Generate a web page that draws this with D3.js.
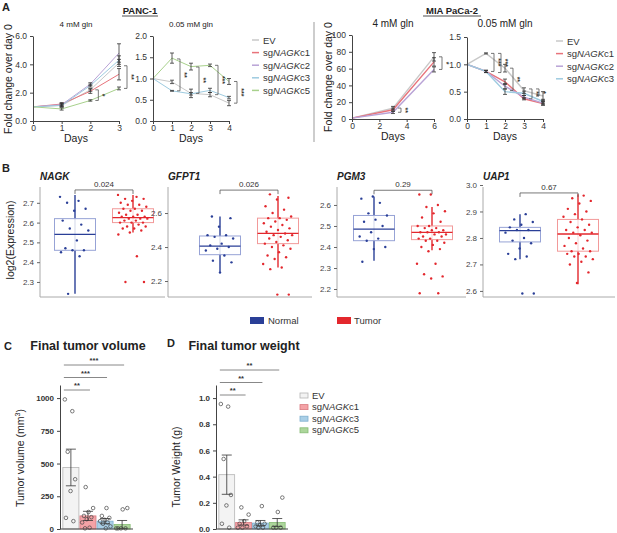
<!DOCTYPE html>
<html>
<head>
<meta charset="utf-8">
<script src="https://cdn.jsdelivr.net/npm/d3@7"></script>
<style>
  body { margin: 0; background: #fff; }
  svg { font-family: "Liberation Sans", Arial, Helvetica, sans-serif; }
</style>
</head>
<body>
<svg id="fig" width="617" height="533"></svg>
<script>
// ---- DATA ----
// panel A : growth curves (fold change over day 0)
const LINE_SERIES = ['EV', 'c1', 'c2', 'c3', 'c5'];
const LINE_COLORS = { EV: '#c8c8c8', c1: '#e8737b', c2: '#b9a3d6', c3: '#9dcbe0', c5: '#a8d18c' };

const panc4Days = [0, 1, 2, 3];
const panc4Mean = { EV: [1, 1.1, 2.2, 4.1], c1: [1, 1.2, 2.1, 3.3], c2: [1, 1.15, 2.6, 4.8], c3: [1, 1.1, 2.5, 4.3], c5: [1, 0.85, 1.45, 2.3] };
const panc4Err  = { EV: [0, 0.1, 0.1, 0.25], c1: [0, 0.1, 0.15, 0.4], c2: [0, 0.1, 0.1, 0.65], c3: [0, 0.1, 0.1, 0.3], c5: [0, 0.08, 0.05, 0.1] };
const panc4Sig  = { day: [2, 3], hi: [2.2, 3.9], lo: [1.45, 2.3], label: ['*', '**'] };

const panc005Days = [0, 1, 2, 3, 4];
const panc005Mean = { EV: [1, 0.92, 0.65, 0.62, 0.42], c3: [1, 0.71, 0.64, 0.72, 0.55], c5: [1, 1.48, 1.28, 1.31, 0.93] };
const panc005Err  = { EV: [0, 0.04, 0.1, 0.05, 0.06], c3: [0, 0.01, 0.03, 0.05, 0.03], c5: [0, 0.12, 0.08, 0.03, 0.07] };
const panc005Sig  = { day: [1, 2, 3, 4], hi: [1.46, 1.27, 1.31, 0.93], lo: [0.71, 0.65, 0.62, 0.42], label: ['**', '**', '***', '***'] };

const mia4Days = [0, 3, 6];
const mia4Mean = { EV: [1, 13, 74], c1: [1, 11, 68], c2: [1, 8, 59] };
const mia4Err  = { EV: [0, 2, 5], c1: [0, 2, 5], c2: [0, 1.5, 3] };
const mia4Sig  = { day: [3, 6], hi: [13, 74], lo: [8, 59], label: ['**', '*'] };

const mia005Days = [0, 1, 2, 3, 4];
const mia005Mean = { EV: [1, 1.2, 0.93, 0.52, 0.42], c1: [1, 0.87, 0.68, 0.37, 0.28], c2: [1, 0.87, 0.6, 0.4, 0.29], c3: [1, 0.87, 0.5, 0.47, 0.32] };
const mia005Err  = { EV: [0, 0.01, 0.07, 0.05, 0.08], c1: [0, 0.02, 0.05, 0.02, 0.03], c2: [0, 0.02, 0.05, 0.03, 0.03], c3: [0, 0.02, 0.05, 0.04, 0.04] };
const mia005Sig  = { day: [1, 1, 2, 3, 3], hi: [1.2, 1.2, 0.93, 0.55, 0.55], lo: [0.87, 0.85, 0.52, 0.37, 0.42], label: ['***', '***', '**', '**', '*'] };

// panel B : expression boxplots  (stats = [low whisker, q1, median, q3, high whisker])
const BOX_GROUPS = ['Normal', 'Tumor'];
const nagkStats = { Normal: [2.24, 2.46, 2.54, 2.62, 2.74], Tumor: [2.55, 2.60, 2.625, 2.67, 2.74] };
const nagkPts = {
  Normal: [2.73, 2.71, 2.70, 2.67, 2.66, 2.61, 2.59, 2.57, 2.56, 2.51, 2.47, 2.46, 2.46, 2.45, 2.43, 2.24],
  Tumor: [2.74, 2.73, 2.72, 2.72, 2.71, 2.70, 2.69, 2.69, 2.68, 2.67, 2.67, 2.66, 2.66, 2.65, 2.64, 2.64, 2.63, 2.63, 2.63,
          2.62, 2.62, 2.62, 2.61, 2.61, 2.60, 2.60, 2.60, 2.59, 2.58, 2.58, 2.57, 2.57, 2.56, 2.55, 2.54, 2.43, 2.30, 2.30]
};
const gfptStats = { Normal: [2.255, 2.355, 2.405, 2.465, 2.58], Tumor: [2.28, 2.42, 2.48, 2.57, 2.70] };
const gfptPts = {
  Normal: [2.58, 2.57, 2.52, 2.47, 2.47, 2.46, 2.45, 2.42, 2.41, 2.40, 2.39, 2.38, 2.35, 2.32, 2.31, 2.25],
  Tumor: [2.71, 2.69, 2.68, 2.64, 2.62, 2.60, 2.58, 2.57, 2.57, 2.56, 2.55, 2.54, 2.53, 2.52, 2.51, 2.50, 2.49, 2.48, 2.47,
          2.47, 2.46, 2.45, 2.44, 2.43, 2.42, 2.41, 2.40, 2.39, 2.37, 2.35, 2.34, 2.33, 2.30, 2.28, 2.27, 2.12, 2.12]
};
const pgmStats = { Normal: [2.335, 2.43, 2.485, 2.55, 2.64], Tumor: [2.385, 2.435, 2.47, 2.50, 2.59] };
const pgmPts = {
  Normal: [2.64, 2.63, 2.61, 2.56, 2.55, 2.53, 2.52, 2.50, 2.47, 2.45, 2.44, 2.43, 2.40, 2.39, 2.33],
  Tumor: [2.65, 2.65, 2.60, 2.59, 2.57, 2.56, 2.54, 2.52, 2.50, 2.50, 2.49, 2.49, 2.48, 2.48, 2.47, 2.47, 2.47, 2.46, 2.46,
          2.45, 2.45, 2.44, 2.44, 2.43, 2.43, 2.42, 2.41, 2.40, 2.39, 2.38, 2.32, 2.32, 2.27, 2.26, 2.25, 2.18, 2.18]
};
const uapStats = { Normal: [2.72, 2.785, 2.828, 2.84, 2.89], Tumor: [2.625, 2.75, 2.815, 2.87, 2.965] };
const uapPts = {
  Normal: [2.89, 2.87, 2.86, 2.85, 2.84, 2.83, 2.83, 2.82, 2.80, 2.79, 2.78, 2.76, 2.74, 2.73, 2.72, 2.59, 2.59],
  Tumor: [2.96, 2.95, 2.94, 2.93, 2.91, 2.90, 2.89, 2.88, 2.87, 2.86, 2.85, 2.84, 2.83, 2.83, 2.82, 2.82, 2.81, 2.80, 2.79,
          2.78, 2.77, 2.76, 2.75, 2.75, 2.74, 2.74, 2.73, 2.73, 2.72, 2.71, 2.70, 2.67, 2.63]
};
const boxGenes = ['NAGK', 'GFPT1', 'PGM3', 'UAP1'];
const boxPvals = ['0.024', '0.026', '0.29', '0.67'];
const boxBracket = [2.765, 2.735, 2.67, 2.97];
const boxDomains = [[2.224, 2.79], [2.106, 2.765], [2.162, 2.695], [2.577, 3.0]];
const boxTicks = [[2.3, 2.4, 2.5, 2.6, 2.7], [2.2, 2.4, 2.6], [2.2, 2.3, 2.4, 2.5, 2.6], [2.6, 2.7, 2.8, 2.9, 3.0]];

// panels C & D : tumor volume / weight
const BAR_GROUPS = ['EV', 'c1', 'c3', 'c5'];
const BAR_FILL = { EV: '#f3f3f3', c1: '#f4a2a6', c3: '#a9cfe7', c5: '#acd69b' };
const BAR_STROKE = { EV: '#b5b5b5', c1: '#d97a80', c3: '#7fafcf', c5: '#86bb74' };
const volMean = [470, 100, 60, 35];
const volSem = [140, 35, 20, 30];
const volPts = {
  EV: [990, 900, 590, 380, 290, 85, 60],
  c1: [320, 160, 130, 100, 90, 75, 50, 10, 5],
  c3: [160, 100, 85, 70, 60, 50, 40, 20, 5],
  c5: [160, 150, 5, 5, 5, 5]
};
const volSig = { to: ['c1', 'c3', 'c5'], label: ['**', '***', '***'] };
const wtMean = [0.415, 0.05, 0.045, 0.05];
const wtSem = [0.15, 0.02, 0.02, 0.03];
const wtPts = {
  EV: [0.955, 0.935, 0.535, 0.26, 0.18, 0.04, 0.01],
  c1: [0.165, 0.11, 0.06, 0.04, 0.02, 0.01, 0.01],
  c3: [0.175, 0.05, 0.04, 0.03, 0.02, 0.01, 0.01],
  c5: [0.24, 0.13, 0.01, 0.01, 0.01]
};
const wtSig = { to: ['c1', 'c3', 'c5'], label: ['**', '**', '**'] };

// ---- DRAWING ----
const svg = d3.select('#fig');

function text(g, x, y, s, size, opts) {
  opts = opts || {};
  return g.append('text').attr('x', x).attr('y', y).text(s)
    .attr('font-size', size)
    .attr('fill', opts.fill || '#222')
    .attr('font-weight', opts.bold ? 'bold' : null)
    .attr('font-style', opts.italic ? 'italic' : null)
    .attr('text-anchor', opts.anchor || 'start');
}

// "sgNAGKc1" style label, NAGK in italics
function sgLabel(g, x, y, key, size) {
  const t = g.append('text').attr('x', x).attr('y', y).attr('font-size', size).attr('fill', '#333');
  if (key === 'EV') { t.text('EV'); return; }
  t.append('tspan').text('sg');
  t.append('tspan').attr('font-style', 'italic').text('NAGK');
  t.append('tspan').text(key);
}

function styleAxis(a, size, bold) {
  a.select('.domain').attr('stroke', '#444').attr('stroke-width', 1);
  a.selectAll('.tick line').attr('stroke', '#444');
  a.selectAll('.tick text').attr('font-size', size).attr('fill', '#333')
    .attr('font-family', '"Liberation Sans", Arial, sans-serif')
    .attr('font-weight', bold ? 'bold' : null);
}

function lineChart(o) {
  const g = svg.append('g');
  const x = d3.scaleLinear().domain(o.xDomain).range(o.xRange);
  const y = d3.scaleLinear().domain(o.yDomain).range(o.yRange);

  const series = Object.keys(o.mean);
  series.forEach(s => {
    g.append('path')
      .datum(o.days.map((d, i) => [d, o.mean[s][i]]))
      .attr('d', d3.line().x(d => x(d[0])).y(d => y(d[1])))
      .attr('fill', 'none').attr('stroke', LINE_COLORS[s]).attr('stroke-width', o.lw);
  });
  // error bars
  series.forEach(s => {
    o.days.forEach((d, i) => {
      const e = o.err[s][i];
      if (!e) return;
      const cx = x(d), yt = y(o.mean[s][i] + e), yb = y(o.mean[s][i] - e);
      g.append('path')
        .attr('d', `M${cx - 2},${yt}H${cx + 2}M${cx},${yt}V${yb}M${cx - 2},${yb}H${cx + 2}`)
        .attr('stroke', '#333').attr('stroke-width', 0.8).attr('fill', 'none');
    });
  });

  const ax = g.append('g').attr('transform', `translate(0,${o.yRange[0]})`)
    .call(d3.axisBottom(x).tickValues(o.xTicks).tickSize(3).tickPadding(1).tickSizeOuter(0).tickFormat(d3.format('d')));
  const ay = g.append('g').attr('transform', `translate(${o.xRange[0]},0)`)
    .call(d3.axisLeft(y).tickValues(o.yTicks).tickSize(3).tickSizeOuter(0).tickFormat(o.fmt));
  styleAxis(ax, 8.5); styleAxis(ay, 8.5);

  // significance brackets
  const used = {};
  o.sig.day.forEach((d, i) => {
    used[d] = (used[d] || 0) + 1;
    const bx = x(d) + 4 + used[d] * 4 + (used[d] - 1) * 3;
    const y1 = y(o.sig.hi[i]), y2 = y(o.sig.lo[i]);
    g.append('path').attr('d', `M${bx - 3},${y1}H${bx}V${y2}H${bx - 3}`)
      .attr('stroke', '#555').attr('stroke-width', 0.8).attr('fill', 'none');
    const my = (y1 + y2) / 2;
    g.append('text').attr('transform', `translate(${bx + 2},${my}) rotate(90)`)
      .attr('text-anchor', 'middle').attr('font-size', 7).attr('font-weight', 'bold')
      .attr('fill', '#333').text(o.sig.label[i]);
  });

  const mid = (o.xRange[0] + o.xRange[1]) / 2;
  text(g, mid, o.yRange[0] + 21, 'Days', 10.5, { anchor: 'middle' });
  text(g, mid, 27, o.title, o.titleSize, { anchor: 'middle' });
}

// panel A
text(svg, 2, 11, 'A', 11, { bold: true });
text(svg, 140, 14, 'PANC-1', 9.5, { bold: true, anchor: 'middle' });
svg.append('line').attr('x1', 122).attr('x2', 158).attr('y1', 16).attr('y2', 16).attr('stroke', '#222').attr('stroke-width', 0.8);
text(svg, 452, 14, 'MIA PaCa-2', 9.5, { bold: true, anchor: 'middle' });
svg.append('line').attr('x1', 423).attr('x2', 481).attr('y1', 16).attr('y2', 16).attr('stroke', '#222').attr('stroke-width', 0.8);

svg.append('text').attr('transform', 'translate(12,79) rotate(-90)').attr('text-anchor', 'middle')
  .attr('font-size', 10.5).attr('fill', '#222').text('Fold change over day 0');
svg.append('text').attr('transform', 'translate(332,77) rotate(-90)').attr('text-anchor', 'middle')
  .attr('font-size', 10.5).attr('fill', '#222').text('Fold change over day 0');

lineChart({ days: panc4Days, mean: panc4Mean, err: panc4Err, sig: panc4Sig, xDomain: [0, 3], xRange: [33, 119],
  yDomain: [0, 6], yRange: [121, 36], xTicks: [0, 1, 2, 3], yTicks: [0, 2, 4, 6], fmt: d3.format('.1f'),
  title: '4 mM gln', titleSize: 8, lw: 1 });
lineChart({ days: panc005Days, mean: panc005Mean, err: panc005Err, sig: panc005Sig, xDomain: [0, 4], xRange: [153, 229],
  yDomain: [0, 2], yRange: [121, 36], xTicks: [0, 1, 2, 3, 4], yTicks: [0, 0.5, 1, 1.5, 2], fmt: d3.format('.1f'),
  title: '0.05 mM gln', titleSize: 8, lw: 1 });
lineChart({ days: mia4Days, mean: mia4Mean, err: mia4Err, sig: mia4Sig, xDomain: [0, 6], xRange: [352, 434],
  yDomain: [0, 100], yRange: [119, 35], xTicks: [0, 2, 4, 6], yTicks: [0, 20, 40, 60, 80, 100], fmt: d3.format('d'),
  title: '4 mM gln', titleSize: 10, lw: 1.4 });
lineChart({ days: mia005Days, mean: mia005Mean, err: mia005Err, sig: mia005Sig, xDomain: [0, 4], xRange: [467, 543],
  yDomain: [0, 1.5], yRange: [119, 37], xTicks: [0, 1, 2, 3, 4], yTicks: [0, 0.5, 1, 1.5], fmt: d3.format('.1f'),
  title: '0.05 mM gln', titleSize: 10, lw: 1.4 });

// divider between cell lines
svg.append('line').attr('x1', 314).attr('x2', 314).attr('y1', 22).attr('y2', 142)
  .attr('stroke', '#bdbdbd').attr('stroke-width', 1.5);

// line legends
function lineLegend(x, y0, keys) {
  keys.forEach((k, i) => {
    const yy = y0 + i * 12.6;
    svg.append('line').attr('x1', x).attr('x2', x + 7).attr('y1', yy).attr('y2', yy)
      .attr('stroke', LINE_COLORS[k]).attr('stroke-width', 1.5);
    sgLabel(svg, x + 11, yy + 3.5, k, 9.5);
  });
}
lineLegend(252, 40, LINE_SERIES);
lineLegend(556, 41, ['EV', 'c1', 'c2', 'c3']);

// panel B
text(svg, 2, 172, 'B', 11, { bold: true });
svg.append('text').attr('transform', 'translate(14,240) rotate(-90)').attr('text-anchor', 'middle')
  .attr('font-size', 10.5).attr('fill', '#222').text('log2(Expression)');

const BOX_DARK = { Normal: '#2a3f97', Tumor: '#e3272d' };
const BOX_LIGHT = { Normal: '#97a3d6', Tumor: '#f29a9a' };
const boxFrames = [[40, 165], [168, 312], [337, 466], [483, 615]];
const boxInset = [35, 52, 37, 37];
const boxStats = [nagkStats, gfptStats, pgmStats, uapStats];
const boxPts = [nagkPts, gfptPts, pgmPts, uapPts];

boxGenes.forEach((gene, k) => {
  const g = svg.append('g');
  const [L, R] = boxFrames[k];
  const top = 185, bottom = 297;
  const y = d3.scaleLinear().domain(boxDomains[k]).range([bottom, top]);
  const x = d3.scalePoint().domain(BOX_GROUPS).range([L + boxInset[k], L + boxInset[k] + 58]);
  const bw = 41;

  g.append('line').attr('x1', L).attr('x2', R).attr('y1', bottom).attr('y2', bottom).attr('stroke', '#aaa');
  const ay = g.append('g').attr('transform', `translate(${L},0)`)
    .call(d3.axisLeft(y).tickValues(boxTicks[k]).tickSize(3).tickSizeOuter(0).tickFormat(d3.format('.1f')));
  ay.select('.domain').attr('d', `M0,${bottom}V${top + 2}`).attr('stroke', '#aaa');
  ay.selectAll('.tick line').attr('stroke', '#666');
  ay.selectAll('.tick text').attr('font-size', 8).attr('fill', '#444');

  BOX_GROUPS.forEach(grp => {
    const st = boxStats[k][grp], cx = x(grp);
    g.append('line').attr('x1', cx).attr('x2', cx).attr('y1', y(st[0])).attr('y2', y(st[4]))
      .attr('stroke', BOX_DARK[grp]).attr('stroke-width', 1.4);
    g.append('rect').attr('x', cx - bw / 2).attr('width', bw).attr('y', y(st[3])).attr('height', y(st[1]) - y(st[3]))
      .attr('fill', '#fff').attr('fill-opacity', 0.85).attr('stroke', BOX_LIGHT[grp]).attr('stroke-width', 1);
    g.append('line').attr('x1', cx - bw / 2).attr('x2', cx + bw / 2).attr('y1', y(st[2])).attr('y2', y(st[2]))
      .attr('stroke', BOX_DARK[grp]).attr('stroke-width', 1.3);
    g.selectAll(null).data(boxPts[k][grp]).enter().append('circle')
      .attr('cx', (d, i) => cx + (((i * 0.618 + k * 0.23) % 1) - 0.5) * 30)
      .attr('cy', d => y(d)).attr('r', 1.2).attr('fill', BOX_DARK[grp]);
  });

  const by = y(boxBracket[k]);
  g.append('path').attr('d', `M${x('Normal')},${by + 4}V${by}H${x('Tumor')}V${by + 4}`)
    .attr('stroke', '#555').attr('stroke-width', 0.8).attr('fill', 'none');
  text(g, (x('Normal') + x('Tumor')) / 2, by - 3, boxPvals[k], 8, { anchor: 'middle', fill: '#333' });
  text(g, L, 180, gene, 10, { bold: true, italic: true });
});

// B legend
svg.append('rect').attr('x', 250).attr('y', 317).attr('width', 14).attr('height', 7).attr('fill', '#2a3f97');
text(svg, 268, 324, 'Normal', 9.5, { fill: '#333' });
svg.append('rect').attr('x', 337).attr('y', 317).attr('width', 14).attr('height', 7).attr('fill', '#e3272d');
text(svg, 354, 324, 'Tumor', 9.5, { fill: '#333' });

// panels C & D
function barChart(o) {
  const g = svg.append('g');
  const x = d3.scaleBand().domain(BAR_GROUPS).range(o.xRange).paddingInner(0.06).paddingOuter(0.05);
  const y = d3.scaleLinear().domain(o.yDomain).range(o.yRange);
  BAR_GROUPS.forEach((grp, i) => {
    g.append('rect').attr('x', x(grp)).attr('width', x.bandwidth())
      .attr('y', y(o.mean[i])).attr('height', y(0) - y(o.mean[i]))
      .attr('fill', BAR_FILL[grp]).attr('stroke', BAR_STROKE[grp]).attr('stroke-width', 0.8);
  });
  BAR_GROUPS.forEach((grp, i) => {
    const cx = x(grp) + x.bandwidth() / 2;
    g.selectAll(null).data(o.pts[grp]).enter().append('circle')
      .attr('cx', (d, j) => cx + (((j * 0.618 + i * 0.31) % 1) - 0.5) * (x.bandwidth() - 4))
      .attr('cy', d => y(d)).attr('r', 1.8)
      .attr('fill', 'none').attr('stroke', '#444').attr('stroke-width', 0.7);
  });
  BAR_GROUPS.forEach((grp, i) => {
    const cx = x(grp) + x.bandwidth() / 2;
    const yt = y(o.mean[i] + o.sem[i]), yb = y(Math.max(0, o.mean[i] - o.sem[i]));
    g.append('path').attr('d', `M${cx - 5},${yt}H${cx + 5}M${cx},${yt}V${yb}M${cx - 5},${yb}H${cx + 5}`)
      .attr('stroke', '#333').attr('stroke-width', 0.8).attr('fill', 'none');
  });
  const ax = g.append('g').attr('transform', `translate(0,${o.yRange[0]})`)
    .call(d3.axisBottom(x).tickSize(0).tickFormat(''));
  ax.select('.domain').attr('d', `M${o.axisX},0H${o.xRange[1] + 2}`).attr('stroke', '#444');
  const ay = g.append('g').attr('transform', `translate(${o.axisX},0)`)
    .call(d3.axisLeft(y).tickValues(o.yTicks).tickSize(3).tickSizeOuter(0).tickFormat(o.fmt));
  styleAxis(ay, 8, true);

  o.sig.to.forEach((grp, i) => {
    const ly = o.sigBase - i * 12.5;
    const x1 = x('EV') + 1, x2 = x(grp) + x.bandwidth() / 2 + 2;
    g.append('line').attr('x1', x1).attr('x2', x2).attr('y1', ly).attr('y2', ly)
      .attr('stroke', '#888').attr('stroke-width', 1);
    text(g, (x1 + x2) / 2, ly - 2, o.sig.label[i], 7.5, { bold: true, anchor: 'middle', fill: '#333' });
  });

  text(g, o.titleX, 350, o.title, 12.5, { bold: true, anchor: 'middle' });
  const yl = g.append('text').attr('transform', `translate(${o.labelX},${o.labelY}) rotate(-90)`)
    .attr('text-anchor', 'middle').attr('font-size', 10.5).attr('fill', '#222');
  o.label(yl);
}

text(svg, 4, 350, 'C', 11, { bold: true });
barChart({ xRange: [62, 131], axisX: 60, yDomain: [0, 1100], yRange: [529, 385], yTicks: [0, 250, 500, 750, 1000],
  fmt: d3.format('d'), mean: volMean, sem: volSem, pts: volPts, sig: volSig, sigBase: 390,
  title: 'Final tumor volume', titleX: 88, labelX: 24, labelY: 458,
  label: t => { t.append('tspan').text('Tumor volume (mm'); t.append('tspan').attr('font-size', 7).attr('dy', -4).text('3');
                t.append('tspan').attr('dy', 4).text(')'); } });

text(svg, 167, 347, 'D', 11, { bold: true });
barChart({ xRange: [218, 286], axisX: 216, yDomain: [0, 1.1], yRange: [529, 385], yTicks: [0, 0.2, 0.4, 0.6, 0.8, 1.0],
  fmt: d3.format('.1f'), mean: wtMean, sem: wtSem, pts: wtPts, sig: wtSig, sigBase: 395,
  title: 'Final tumor weight', titleX: 244, labelX: 180, labelY: 467,
  label: t => t.text('Tumor Weight (g)') });

// D legend
BAR_GROUPS.forEach((grp, i) => {
  const yy = 393 + i * 11.6;
  svg.append('rect').attr('x', 300).attr('y', yy).attr('width', 8).attr('height', 5)
    .attr('fill', BAR_FILL[grp]).attr('stroke', BAR_STROKE[grp]).attr('stroke-width', 0.8);
  sgLabel(svg, 312, yy + 5.5, grp, 9.5);
});
</script>
</body>
</html>
